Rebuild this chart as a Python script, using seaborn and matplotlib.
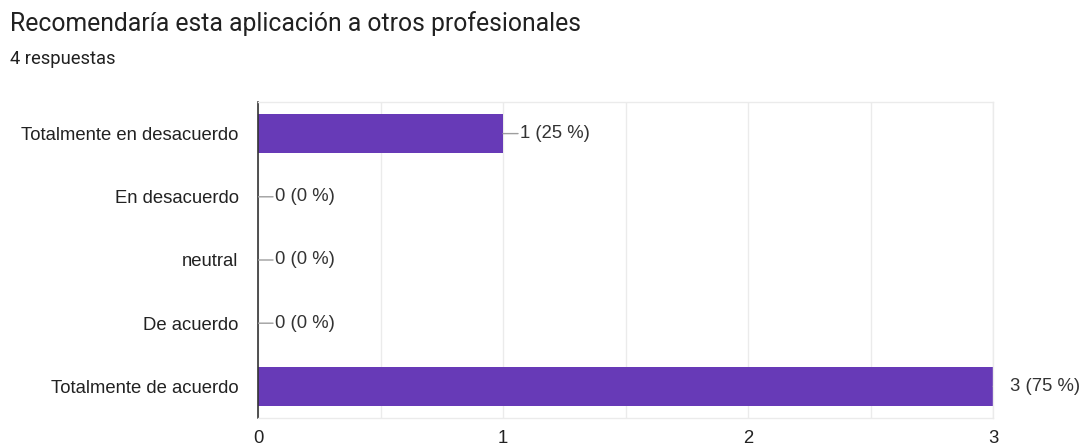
import matplotlib
matplotlib.use("Agg")
import matplotlib.pyplot as plt
import seaborn as sns
import pandas as pd

# Survey answers and their counts
categories = ["Totalmente en desacuerdo", "En desacuerdo", "neutral",
              "De acuerdo", "Totalmente de acuerdo"]
counts = [1, 0, 0, 0, 3]
percents = [25, 0, 0, 0, 75]
x_ticks = [0, 1, 2, 3]
title = "Recomendaría esta aplicación a otros profesionales"
subtitle = "4 respuestas"

sns.set_theme(style="white")
plt.rcParams["font.family"] = ["Liberation Sans", "DejaVu Sans"]
heading_font = ["Roboto", "DejaVu Sans"]

df = pd.DataFrame({"categoria": categories, "respuestas": counts})

fig = plt.figure(figsize=(10.86, 4.46), dpi=100)
ax = fig.add_axes([0.2376, 0.0628, 0.6768, 0.7085])

sns.barplot(data=df, x="respuestas", y="categoria", order=categories,
            color="#673ab7", saturation=1, width=0.61, edgecolor="none",
            orient="h", ax=ax)

ax.set_xlim(0, 3)
ax.set_ylim(len(categories) - 0.5, -0.5)
ax.set_xticks(x_ticks)
ax.set_xticklabels([str(t) for t in x_ticks])
ax.set_xticks([0.5, 1.5, 2.5], minor=True)
ax.set_xlabel("")
ax.set_ylabel("")
ax.grid(True, axis="x", which="both", color="#ebebeb", linewidth=1)
ax.set_axisbelow(True)
ax.tick_params(axis="both", which="both", length=0)
ax.tick_params(axis="x", pad=9, labelsize=13.3, labelcolor="#222222")
ax.tick_params(axis="y", pad=14, labelsize=13.3, labelcolor="#222222")

for side in ("top", "bottom", "right"):
    ax.spines[side].set_color("#ebebeb")
    ax.spines[side].set_linewidth(1)
ax.spines["left"].set_color("#333333")
ax.spines["left"].set_linewidth(1.2)

# Value labels with short leader lines (clipped to the plot area)
for i, (c, p) in enumerate(zip(counts, percents)):
    ax.annotate("", xy=(c, i), xytext=(15, 0), textcoords="offset pixels",
                arrowprops=dict(arrowstyle="-", color="#9e9e9e", lw=1,
                                shrinkA=0, shrinkB=0),
                annotation_clip=False).arrow_patch.set_clip_box(ax.bbox)
    ax.annotate(f"{c} ({p} %)", xy=(c, i), xytext=(17, 0),
                textcoords="offset pixels", ha="left", va="center",
                fontsize=13.3, color="#333333", annotation_clip=False)

fig.text(10 / 1086, 1 - 24 / 446, title, fontsize=17.8, color="#212121",
         ha="left", va="center", family=heading_font)
fig.text(10 / 1086, 1 - 59 / 446, subtitle, fontsize=13.2, color="#212121",
         ha="left", va="center", family=heading_font)

fig.savefig("out.png", dpi=100, facecolor="white")
